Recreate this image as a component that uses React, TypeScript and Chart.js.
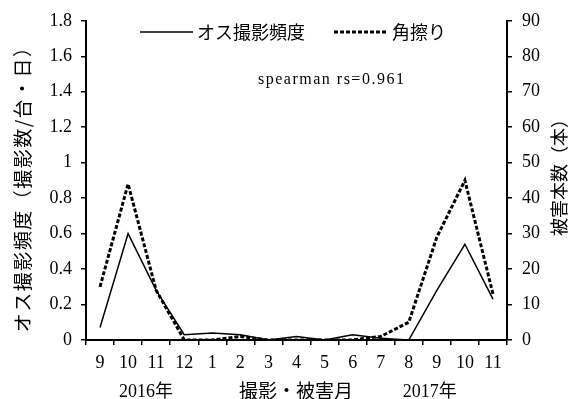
import React, { useEffect, useRef } from "react";
import { Chart, registerables } from "chart.js";

Chart.register(...registerables);

// Months on the x axis: Sep 2016 – Nov 2017
const months = ["9", "10", "11", "12", "1", "2", "3", "4", "5", "6", "7", "8", "9", "10", "11"];
// Male camera-trap frequency (photos / camera · day)
const maleFrequency = [0.07, 0.6, 0.28, 0.03, 0.04, 0.03, 0, 0.02, 0, 0.03, 0.01, 0, 0.28, 0.54, 0.23];
// Number of trees with antler rubbing damage
const rubbingCount = [15, 44, 14, 0, 0, 1, 0, 0, 0, 0, 1, 5, 29, 45, 13];
const leftTicks = [0, 0.2, 0.4, 0.6, 0.8, 1, 1.2, 1.4, 1.6, 1.8];
const rightTicks = [0, 10, 20, 30, 40, 50, 60, 70, 80, 90];

const seriesNames = ["オス撮影頻度", "角擦り"];
const leftTitle = "オス撮影頻度（撮影数/台・日）";
const rightTitle = "被害本数（本）";
const xTitle = "撮影・被害月";
const yearLabels = ["2016年", "2017年"];
const statText = "spearman rs=0.961";

const SERIF = '"Liberation Serif", "Noto Sans CJK JP", serif';
const CJK = '"Noto Sans CJK JP", sans-serif';

const annotations = {
  id: "annotations",
  afterDraw(chart: any) {
    const ctx = chart.ctx as CanvasRenderingContext2D;
    const area = chart.chartArea;
    const xs = chart.scales.x;
    ctx.save();
    ctx.fillStyle = "#000";
    ctx.strokeStyle = "#000";

    // legend
    ctx.textBaseline = "middle";
    ctx.textAlign = "left";
    ctx.font = `18px ${CJK}`;
    const ly = 32;
    ctx.lineWidth = 1.5;
    ctx.setLineDash([]);
    ctx.beginPath();
    ctx.moveTo(140, ly);
    ctx.lineTo(193, ly);
    ctx.stroke();
    ctx.fillText(seriesNames[0], 197, ly);
    ctx.lineWidth = 3;
    ctx.setLineDash([4, 2]);
    ctx.beginPath();
    ctx.moveTo(334, ly);
    ctx.lineTo(388, ly);
    ctx.stroke();
    ctx.setLineDash([]);
    ctx.fillText(seriesNames[1], 392, ly);

    // correlation note
    ctx.font = `16px ${SERIF}`;
    (ctx as any).letterSpacing = "1.5px";
    ctx.fillText(statText, 258, 80);
    (ctx as any).letterSpacing = "0px";

    // axis titles
    ctx.textAlign = "center";
    ctx.font = `19px ${CJK}`;
    ctx.save();
    ctx.translate(23, (area.top + area.bottom) / 2 + 4);
    ctx.rotate(-Math.PI / 2);
    (ctx as any).letterSpacing = "1.5px";
    ctx.fillText(leftTitle, 0, 0);
    ctx.restore();

    ctx.font = `18px ${CJK}`;
    ctx.save();
    ctx.translate(559, 173);
    ctx.rotate(-Math.PI / 2);
    ctx.fillText(rightTitle, 0, 0);
    ctx.restore();

    ctx.font = `19px ${CJK}`;
    ctx.fillText(xTitle, 296, 391);

    // year labels under the first and second September
    ctx.font = `18px ${SERIF}`;
    const x2016 = (xs.getPixelForValue(0) + xs.getPixelForValue(2)) / 2;
    const x2017 = (xs.getPixelForValue(11) + xs.getPixelForValue(12)) / 2 + 6;
    ctx.fillText(yearLabels[0], x2016 + 18, 392);
    ctx.fillText(yearLabels[1], x2017 + 1, 392);
    ctx.restore();
  },
};

export default function App() {
  const canvasRef = useRef<HTMLCanvasElement | null>(null);

  useEffect(() => {
    document.body.style.margin = "0";
    const canvas = canvasRef.current;
    if (!canvas) return;
    const tickFont = { family: SERIF, size: 18 };
    const chart = new Chart(canvas, {
      type: "line",
      data: {
        labels: months,
        datasets: [
          {
            label: seriesNames[0],
            data: maleFrequency,
            yAxisID: "y",
            borderColor: "#000",
            borderWidth: 1.5,
            pointRadius: 0,
            tension: 0,
            fill: false,
          },
          {
            label: seriesNames[1],
            data: rubbingCount,
            yAxisID: "y1",
            borderColor: "#000",
            borderWidth: 3,
            borderDash: [4, 2],
            pointRadius: 0,
            tension: 0,
            fill: false,
          },
        ],
      },
      options: {
        responsive: false,
        animation: false,
        devicePixelRatio: 1,
        layout: { padding: { top: 17, left: 0, right: 0, bottom: 0 } },
        plugins: { legend: { display: false }, tooltip: { enabled: false } },
        scales: {
          x: {
            offset: true,
            grid: {
              offset: true,
              drawOnChartArea: false,
              drawTicks: true,
              tickLength: 5,
              color: "#000",
              lineWidth: 1.5,
            },
            border: { display: true, color: "#000", width: 2 },
            ticks: { color: "#000", font: tickFont, padding: 7, maxRotation: 0, autoSkip: false },
            afterFit: (s: any) => {
              s.height = 59;
            },
          },
          y: {
            position: "left",
            min: leftTicks[0],
            max: leftTicks[leftTicks.length - 1],
            afterBuildTicks: (s: any) => {
              s.ticks = leftTicks.map((v) => ({ value: v }));
            },
            grid: { drawOnChartArea: false, tickLength: 5, color: "#000", lineWidth: 1.5 },
            border: { display: true, color: "#000", width: 2 },
            ticks: {
              color: "#000",
              font: tickFont,
              padding: 9,
              callback: (v: any) => String(Math.round(Number(v) * 10) / 10),
            },
            afterFit: (s: any) => {
              s.width = 86;
            },
          },
          y1: {
            position: "right",
            min: rightTicks[0],
            max: rightTicks[rightTicks.length - 1],
            afterBuildTicks: (s: any) => {
              s.ticks = rightTicks.map((v) => ({ value: v }));
            },
            grid: { drawOnChartArea: false, tickLength: 5, color: "#000", lineWidth: 1.5 },
            border: { display: true, color: "#000", width: 2 },
            ticks: { color: "#000", font: tickFont, padding: 10 },
            afterFit: (s: any) => {
              s.width = 66;
            },
          },
        },
      },
      plugins: [annotations],
    });
    return () => chart.destroy();
  }, []);

  return (
    <div style={{ position: "absolute", left: 0, top: 0, width: 573, height: 399, background: "#fff" }}>
      <canvas ref={canvasRef} width={573} height={399} />
    </div>
  );
}
